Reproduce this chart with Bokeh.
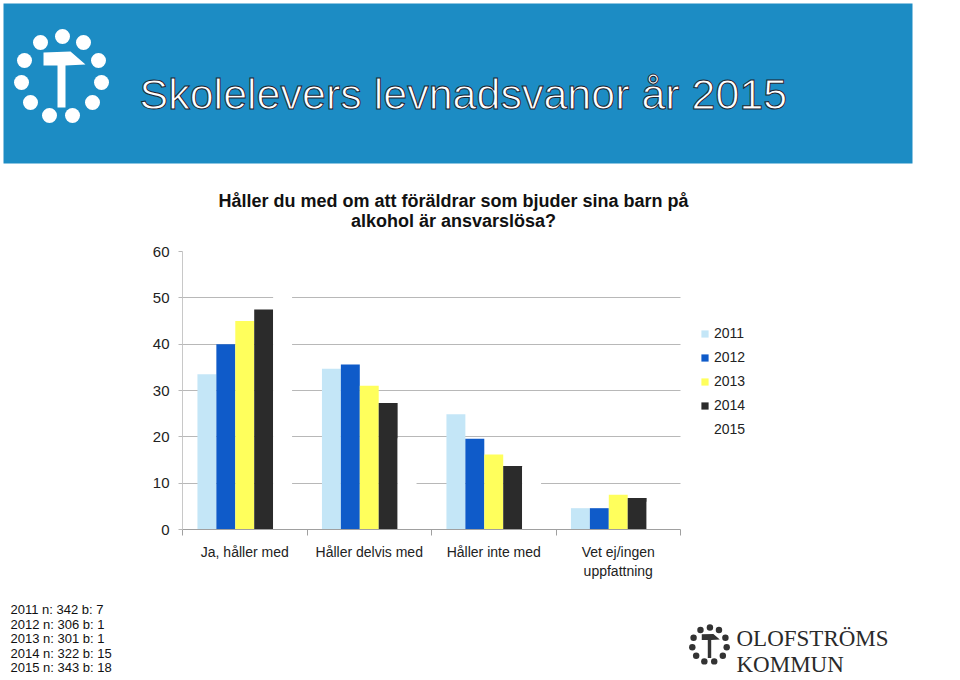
from bokeh.plotting import figure
from bokeh.layouts import column
from bokeh.models import Range1d, FixedTicker, Legend, LegendItem
from bokeh.core.properties import value
from bokeh.embed import file_html
from bokeh.resources import INLINE

# ---------------- data ----------------
categories = ["Ja, håller med", "Håller delvis med", "Håller inte med", "Vet ej/ingen\nuppfattning"]
years = ["2011", "2012", "2013", "2014", "2015"]
v2011 = [33.5, 34.7, 24.9, 4.6]
v2012 = [40.0, 35.6, 19.6, 4.6]
v2013 = [45.0, 31.0, 16.2, 7.5]
v2014 = [47.5, 27.3, 13.7, 6.8]
v2015 = [57.0, 19.7, 13.5, 6.0]
y_ticks = [0, 10, 20, 30, 40, 50, 60]
sample_notes = ["2011 n: 342 b: 7", "2012 n: 306 b: 1", "2013 n: 301 b: 1",
                "2014 n: 322 b: 15", "2015 n: 343 b: 18"]
page_title = "Skolelevers levnadsvanor år 2015"
chart_title = ["Håller du med om att föräldrar som bjuder sina barn på", "alkohol är ansvarslösa?"]
brand = ["OLOFSTRÖMS", "KOMMUN"]

series = [v2011, v2012, v2013, v2014, v2015]
colors = ["#c4e6f7", "#0f5bc9", "#ffff5c", "#2b2b2b", "#ffffff"]

FONT = "Liberation Sans"
W = 944

# logo geometry (relative to ring centre, px of the big logo)
dot_dx = [1, -21, 22, -37, 37, -40, 40, -31, 31, -12, 11]
dot_dy = [-42, -36, -36, -18, -18, 4, 4, 24, 24, 37, 37]
t_dx = [-18, 9, 24, 4, 4, -4, -4, -18]
t_dy = [-26, -27, -14, -13, 29, 29, -13, -13]


def bare(fig):
    fig.frame_align = False
    fig.outline_line_color = None
    fig.grid.visible = False
    fig.background_fill_color = "white"
    fig.border_fill_color = "white"


def logo(fig, cx, cy, s, color):
    fig.circle([cx + s * d for d in dot_dx], [cy + s * d for d in dot_dy],
               radius=7.5 * s, fill_color=color, line_color=None)
    fig.patch([cx + s * d for d in t_dx], [cy + s * d for d in t_dy],
              fill_color=color, line_color=None)


# ---------------- header ----------------
H1 = 240
head = figure(width=W, height=H1, x_range=Range1d(0, W), y_range=Range1d(H1, 0),
              toolbar_location=None, output_backend="svg", min_border=0,
              x_axis_location=None, y_axis_location=None)
bare(head)
head.quad(left=[3], right=[912], top=[3], bottom=[163], fill_color="#1c8cc4", line_color=None)
logo(head, 61, 78, 1.0, "white")
head.text(x=[139], y=[93], text=[page_title], text_color="white",
          text_font=value(FONT), text_font_size="43px", text_baseline="alphabetic",
          text_outline_color="#1b2430")
head.text(x=[453, 453], y=[200, 220], text=chart_title, text_color="#111111",
          text_font=value(FONT), text_font_size="18px", text_font_style="bold",
          text_align="center", text_baseline="middle")

# ---------------- chart ----------------
FL, FTOP, FH, FBOT = 182, 11, 280, 50
PW = 498                       # px covered by the four categories
FW = 930 - FL                  # frame extends right to hold the legend
XR = len(categories) * FW / PW
H2 = FTOP + FH + FBOT
p = figure(width=W, height=H2, x_range=Range1d(0, XR), y_range=Range1d(0, y_ticks[-1]),
           toolbar_location=None, output_backend="svg",
           min_border_left=FL, min_border_right=W - FL - FW,
           min_border_top=FTOP, min_border_bottom=FBOT)
p.frame_align = False
p.outline_line_color = None
p.xgrid.visible = False
p.ygrid.grid_line_color = "#b8b8b8"
p.ygrid.grid_line_width = 1
p.ygrid.cross_bounds = (0, len(categories))

p.yaxis.ticker = FixedTicker(ticks=y_ticks)
p.yaxis.major_tick_line_color = "#b8b8b8"
p.yaxis.major_tick_out = 4
p.yaxis.major_tick_in = 0
p.yaxis.minor_tick_line_color = None
p.yaxis.axis_line_color = "#c8c8c8"
p.yaxis.major_label_text_font = FONT
p.yaxis.major_label_text_font_size = "15px"
p.yaxis.major_label_text_color = "#222222"
p.yaxis.major_label_standoff = 9

p.xaxis.bounds = (0, len(categories))
p.xaxis.ticker = FixedTicker(ticks=[i + 0.5 for i in range(len(categories))],
                             minor_ticks=list(range(len(categories) + 1)))
p.xaxis.major_label_overrides = {i + 0.5: c for i, c in enumerate(categories)}
p.xaxis.major_tick_line_color = None
p.xaxis.major_tick_out = 0
p.xaxis.major_tick_in = 0
p.xaxis.minor_tick_in = 0
p.xaxis.minor_tick_out = 6
p.xaxis.minor_tick_line_color = "#a0a0a0"
p.xaxis.axis_line_color = "#a0a0a0"
p.xaxis.major_label_text_font = FONT
p.xaxis.major_label_text_font_size = "14px"
p.xaxis.major_label_text_color = "#222222"
p.xaxis.major_label_standoff = 8

w = 0.152
items = []
for j, (yr, vals, col) in enumerate(zip(years, series, colors)):
    xs = [i + 0.5 + (j - 2) * w for i in range(len(categories))]
    r = p.vbar(x=xs, top=vals, width=w, fill_color=col, line_color=None)
    items.append(LegendItem(label=yr, renderers=[r]))

legend = Legend(items=items, location=(518, 90), glyph_width=9, glyph_height=9,
                label_text_font=FONT, label_text_font_size="14px", label_text_color="#222222",
                label_standoff=5, spacing=4, label_height=20, padding=0, margin=0,
                border_line_color=None, background_fill_alpha=0)
p.add_layout(legend, "center")

# ---------------- footer ----------------
Y0 = H1 + H2
H3 = 676 - Y0
foot = figure(width=W, height=H3, x_range=Range1d(0, W), y_range=Range1d(Y0 + H3, Y0),
              toolbar_location=None, output_backend="svg", min_border=0,
              x_axis_location=None, y_axis_location=None)
bare(foot)
foot.text(x=[10] * len(sample_notes), y=[609 + 14.5 * i for i in range(len(sample_notes))],
          text=sample_notes, text_color="#111111", text_font=value(FONT),
          text_font_size="13px", text_baseline="middle")
logo(foot, 709, 645, 0.43, "#333333")
foot.text(x=[736, 736], y=[638, 664], text=brand, text_color="#2a2a2a",
          text_font=value("Liberation Serif"), text_font_size="23px",
          text_baseline="alphabetic")

layout = column(head, p, foot, spacing=0)
open("out.html", "w").write(file_html(layout, INLINE))
